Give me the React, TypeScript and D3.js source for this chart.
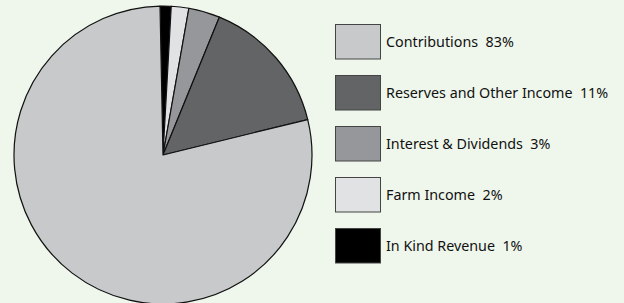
import React, { useEffect, useRef } from 'react';
import * as d3 from 'd3';

const categories = ['In Kind Revenue', 'Farm Income', 'Interest & Dividends', 'Reserves and Other Income', 'Contributions'];
const sliceValues = [1.2, 1.9, 3.4, 15.0, 78.5];
const colors = ['#000000', '#e1e2e4', '#96979a', '#636466', '#c8c9cb'];

// legend order top to bottom, with the percentages printed in the source
const legendOrder = ['Contributions', 'Reserves and Other Income', 'Interest & Dividends', 'Farm Income', 'In Kind Revenue'];
const legendPct = ['83%', '11%', '3%', '2%', '1%'];

const W = 624;
const H = 303;

const App: React.FC = () => {
  const ref = useRef<SVGSVGElement>(null);

  useEffect(() => {
    const svg = d3.select(ref.current);
    svg.selectAll('*').remove();

    svg.append('rect').attr('width', W).attr('height', H).attr('fill', '#eff7ec');

    const cx = 163;
    const cy = 155;
    const radius = 149;
    const start = (-1.15 * Math.PI) / 180;

    const pie = d3
      .pie<number>()
      .sort(null)
      .startAngle(start)
      .endAngle(start + Math.PI * 2)
      .value(d => d);
    const arc = d3.arc<d3.PieArcDatum<number>>().innerRadius(0).outerRadius(radius);

    const g = svg.append('g').attr('transform', `translate(${cx},${cy})`);
    g.selectAll('path')
      .data(pie(sliceValues))
      .enter()
      .append('path')
      .attr('d', arc)
      .attr('fill', (d, i) => colors[i])
      .attr('stroke', '#111')
      .attr('stroke-width', 1.2)
      .attr('stroke-linejoin', 'round');

    // legend
    const y = d3.scaleBand<string>().domain(legendOrder).range([24, 24 + 51 * 5]);
    const leg = svg
      .selectAll('.leg')
      .data(legendOrder)
      .enter()
      .append('g')
      .attr('class', 'leg')
      .attr('transform', d => `translate(335,${y(d)})`);

    leg
      .append('rect')
      .attr('x', 0.5)
      .attr('y', 0.5)
      .attr('width', 45)
      .attr('height', 34.5)
      .attr('fill', d => colors[categories.indexOf(d)])
      .attr('stroke', '#444')
      .attr('stroke-width', 1);

    leg
      .append('text')
      .attr('x', 51)
      .attr('y', 23.3)
      .attr('font-family', '"Noto Sans", sans-serif')
      .attr('font-size', 14.3)
      .attr('fill', '#111')
      .style('white-space', 'pre')
      .text((d, i) => `${d}  ${legendPct[i]}`);
  }, []);

  return (
    <svg
      ref={ref}
      width={W}
      height={H}
      style={{ position: 'absolute', left: 0, top: 0, display: 'block' }}
    />
  );
};

export default App;
